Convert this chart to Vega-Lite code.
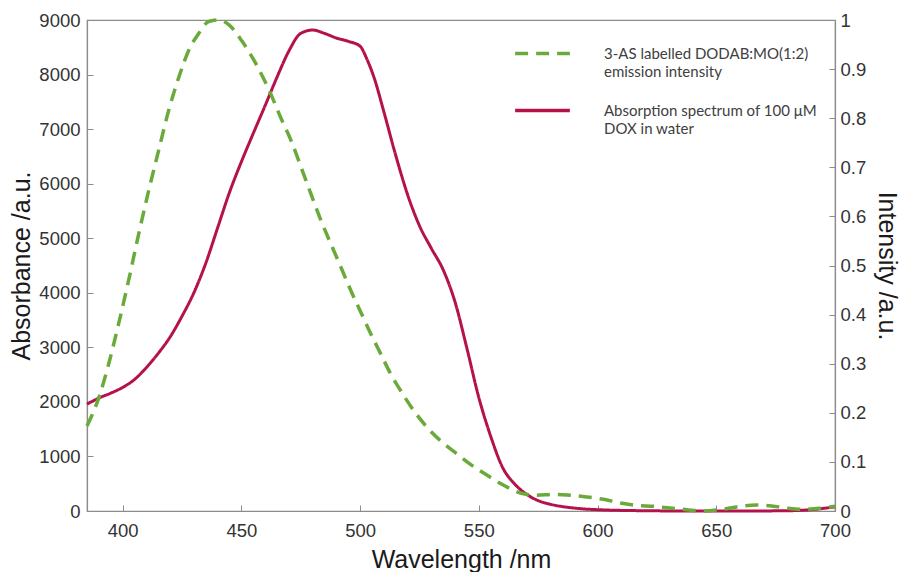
{
  "$schema": "https://vega.github.io/schema/vega-lite/v6.json",
  "width": 748,
  "height": 491,
  "autosize": "none",
  "padding": {"left": 87, "top": 20, "right": 67, "bottom": 61},
  "background": "white",
  "config": {
    "view": {"stroke": "#8c8c8c", "strokeWidth": 1.2},
    "font": "Liberation Sans",
    "style": {"guide-label": {"lineHeight": 18}},
    "axis": {
      "grid": false,
      "domainColor": "#8c8c8c",
      "tickColor": "#8c8c8c",
      "domainWidth": 1.2,
      "labelFont": "Liberation Sans",
      "labelFontSize": 18.5,
      "labelColor": "#333333",
      "titleFont": "Liberation Sans",
      "titleFontSize": 25,
      "titleFontWeight": "normal",
      "titleColor": "#1a1a1a",
      "tickSize": -6
    }
  },
  "data": {
    "values": [
      {"wl": 385, "series": "absorption", "v": 1960},
      {"wl": 390, "series": "absorption", "v": 2070},
      {"wl": 395, "series": "absorption", "v": 2160},
      {"wl": 400, "series": "absorption", "v": 2265},
      {"wl": 405, "series": "absorption", "v": 2410},
      {"wl": 410, "series": "absorption", "v": 2630},
      {"wl": 415, "series": "absorption", "v": 2890},
      {"wl": 420, "series": "absorption", "v": 3190},
      {"wl": 425, "series": "absorption", "v": 3570},
      {"wl": 430, "series": "absorption", "v": 4000},
      {"wl": 435, "series": "absorption", "v": 4540},
      {"wl": 440, "series": "absorption", "v": 5190},
      {"wl": 445, "series": "absorption", "v": 5840},
      {"wl": 450, "series": "absorption", "v": 6400},
      {"wl": 455, "series": "absorption", "v": 6920},
      {"wl": 460, "series": "absorption", "v": 7430},
      {"wl": 465, "series": "absorption", "v": 7950},
      {"wl": 470, "series": "absorption", "v": 8430},
      {"wl": 475, "series": "absorption", "v": 8755},
      {"wl": 480, "series": "absorption", "v": 8816},
      {"wl": 485, "series": "absorption", "v": 8755},
      {"wl": 490, "series": "absorption", "v": 8670},
      {"wl": 495, "series": "absorption", "v": 8610},
      {"wl": 500, "series": "absorption", "v": 8520},
      {"wl": 503, "series": "absorption", "v": 8270},
      {"wl": 506, "series": "absorption", "v": 7930},
      {"wl": 510, "series": "absorption", "v": 7320},
      {"wl": 515, "series": "absorption", "v": 6520},
      {"wl": 520, "series": "absorption", "v": 5800},
      {"wl": 525, "series": "absorption", "v": 5230},
      {"wl": 530, "series": "absorption", "v": 4815},
      {"wl": 535, "series": "absorption", "v": 4420},
      {"wl": 540, "series": "absorption", "v": 3830},
      {"wl": 545, "series": "absorption", "v": 2980},
      {"wl": 550, "series": "absorption", "v": 2080},
      {"wl": 555, "series": "absorption", "v": 1370},
      {"wl": 560, "series": "absorption", "v": 800},
      {"wl": 565, "series": "absorption", "v": 500},
      {"wl": 570, "series": "absorption", "v": 310},
      {"wl": 575, "series": "absorption", "v": 190},
      {"wl": 580, "series": "absorption", "v": 125},
      {"wl": 590, "series": "absorption", "v": 55},
      {"wl": 600, "series": "absorption", "v": 24},
      {"wl": 620, "series": "absorption", "v": 5},
      {"wl": 640, "series": "absorption", "v": 0},
      {"wl": 660, "series": "absorption", "v": 0},
      {"wl": 680, "series": "absorption", "v": 5},
      {"wl": 690, "series": "absorption", "v": 25},
      {"wl": 700, "series": "absorption", "v": 75},
      {"wl": 385, "series": "emission", "v": 0.173},
      {"wl": 390, "series": "emission", "v": 0.231},
      {"wl": 394.1, "series": "emission", "v": 0.299},
      {"wl": 398.3, "series": "emission", "v": 0.381},
      {"wl": 402.5, "series": "emission", "v": 0.469},
      {"wl": 406.8, "series": "emission", "v": 0.565},
      {"wl": 411, "series": "emission", "v": 0.653},
      {"wl": 415.2, "series": "emission", "v": 0.735},
      {"wl": 419.4, "series": "emission", "v": 0.816},
      {"wl": 423.7, "series": "emission", "v": 0.884},
      {"wl": 427.9, "series": "emission", "v": 0.939},
      {"wl": 432.1, "series": "emission", "v": 0.973},
      {"wl": 436.3, "series": "emission", "v": 0.997},
      {"wl": 440.6, "series": "emission", "v": 1.0},
      {"wl": 444.8, "series": "emission", "v": 0.99},
      {"wl": 450.4, "series": "emission", "v": 0.956},
      {"wl": 456, "series": "emission", "v": 0.912},
      {"wl": 461.7, "series": "emission", "v": 0.857},
      {"wl": 466.7, "series": "emission", "v": 0.8},
      {"wl": 470.9, "series": "emission", "v": 0.755},
      {"wl": 475.1, "series": "emission", "v": 0.701},
      {"wl": 479.3, "series": "emission", "v": 0.646},
      {"wl": 483.5, "series": "emission", "v": 0.592},
      {"wl": 487.7, "series": "emission", "v": 0.544},
      {"wl": 491.9, "series": "emission", "v": 0.497},
      {"wl": 496.1, "series": "emission", "v": 0.449},
      {"wl": 500.3, "series": "emission", "v": 0.405},
      {"wl": 504.5, "series": "emission", "v": 0.361},
      {"wl": 508.7, "series": "emission", "v": 0.32},
      {"wl": 512.9, "series": "emission", "v": 0.279},
      {"wl": 517.1, "series": "emission", "v": 0.245},
      {"wl": 522.7, "series": "emission", "v": 0.204},
      {"wl": 528.3, "series": "emission", "v": 0.17},
      {"wl": 533.9, "series": "emission", "v": 0.143},
      {"wl": 540.9, "series": "emission", "v": 0.116},
      {"wl": 546.5, "series": "emission", "v": 0.095},
      {"wl": 553.5, "series": "emission", "v": 0.0728},
      {"wl": 560.5, "series": "emission", "v": 0.0524},
      {"wl": 567.5, "series": "emission", "v": 0.0367},
      {"wl": 574.5, "series": "emission", "v": 0.032},
      {"wl": 581.5, "series": "emission", "v": 0.034},
      {"wl": 588.5, "series": "emission", "v": 0.032},
      {"wl": 595.5, "series": "emission", "v": 0.0286},
      {"wl": 602.5, "series": "emission", "v": 0.0238},
      {"wl": 609.6, "series": "emission", "v": 0.0163},
      {"wl": 616.5, "series": "emission", "v": 0.0116},
      {"wl": 623.5, "series": "emission", "v": 0.0095},
      {"wl": 630.5, "series": "emission", "v": 0.0061},
      {"wl": 637.5, "series": "emission", "v": 0.0027},
      {"wl": 644.5, "series": "emission", "v": 0.0},
      {"wl": 651.5, "series": "emission", "v": 0.0027},
      {"wl": 658.5, "series": "emission", "v": 0.0082},
      {"wl": 666.9, "series": "emission", "v": 0.0122},
      {"wl": 672.5, "series": "emission", "v": 0.0109},
      {"wl": 679.5, "series": "emission", "v": 0.0061},
      {"wl": 686.6, "series": "emission", "v": 0.0034},
      {"wl": 693.6, "series": "emission", "v": 0.0054},
      {"wl": 700, "series": "emission", "v": 0.0095}
    ]
  },
  "encoding": {
    "x": {
      "field": "wl",
      "type": "quantitative",
      "scale": {"domain": [385, 700], "nice": false, "zero": false},
      "axis": {
        "title": "Wavelength /nm",
        "values": [400, 450, 500, 550, 600, 650, 700],
        "labelPadding": 16,
        "titlePadding": 8,
        "labelFlush": false
      }
    },
    "color": {
      "field": "series",
      "type": "nominal",
      "scale": {"domain": ["emission", "absorption"], "range": ["#6aaa3a", "#b5124b"]},
      "legend": {
        "title": null,
        "orient": "none",
        "legendX": 426,
        "legendY": 4,
        "symbolType": "stroke",
        "symbolSize": 3000,
        "symbolStrokeWidth": 3.5,
        "labelOffset": 32,
        "labelFont": "Lato",
        "labelFontSize": 15,
        "labelColor": "#404040",
        "labelLimit": 320,
        "rowPadding": 1,
        "labelExpr": "datum.value == 'emission' ? ['3-AS labelled DODAB:MO(1:2)', ' emission intensity'] : ['Absorption spectrum of 100 \u03bcM', 'DOX in water']",
        "encode": {
          "symbols": {
            "update": {
              "stroke": {"signal": "datum.value === 'absorption' ? '#c0504d' : '#7fb447'"}
            }
          }
        }
      }
    },
    "strokeDash": {
      "field": "series",
      "type": "nominal",
      "scale": {"domain": ["emission", "absorption"], "range": [[13, 8], [1, 0]]},
      "legend": null
    }
  },
  "layer": [
    {
      "transform": [{"filter": "datum.series == 'absorption'"}],
      "mark": {"type": "line", "interpolate": "monotone", "strokeWidth": 3},
      "encoding": {
        "y": {
          "field": "v",
          "type": "quantitative",
          "scale": {"domain": [0, 9000], "nice": false},
          "axis": {
            "orient": "left",
            "title": "Absorbance /a.u.",
            "format": "d",
            "values": [0, 1000, 2000, 3000, 4000, 5000, 6000, 7000, 8000, 9000],
            "labelPadding": 13,
            "titlePadding": 4,
            "labelFlush": false
          }
        }
      }
    },
    {
      "transform": [{"filter": "datum.series == 'emission'"}],
      "mark": {"type": "line", "interpolate": "monotone", "strokeWidth": 3.5},
      "encoding": {
        "y": {
          "field": "v",
          "type": "quantitative",
          "scale": {"domain": [0, 1], "nice": false},
          "axis": {
            "orient": "right",
            "title": "Intensity /a.u.",
            "values": [0, 0.1, 0.2, 0.3, 0.4, 0.5, 0.6, 0.7, 0.8, 0.9, 1],
            "format": "~g",
            "labelPadding": 11,
            "titlePadding": 8,
            "labelFlush": false
          }
        }
      }
    }
  ],
  "resolve": {"scale": {"y": "independent"}}
}
